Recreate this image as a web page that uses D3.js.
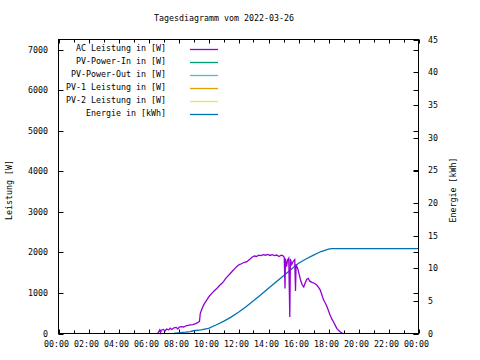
<!DOCTYPE html>
<html><head><meta charset="utf-8">
<script src="https://cdn.jsdelivr.net/npm/d3@7"></script>
<style>
body{margin:0;background:#fff;}
text{font-family:"DejaVu Sans Mono",monospace;font-size:8.3px;fill:#000;}
</style></head>
<body><svg id="c" width="480" height="360"></svg>
<script>
const title = "Tagesdiagramm vom 2022-03-26";
const yLabel = "Leistung [W]";
const y2Label = "Energie [kWh]";
const xTickLabels = ["00:00","02:00","04:00","06:00","08:00","10:00","12:00","14:00","16:00","18:00","20:00","22:00","00:00"];
const yTicks = [0,1000,2000,3000,4000,5000,6000,7000];
const y2Ticks = [0,5,10,15,20,25,30,35,40,45];
const legendNames = ["AC Leistung in [W]","PV-Power-In in [W]","PV-Power-Out in [W]","PV-1 Leistung in [W]","PV-2 Leistung in [W]","Energie in [kWh]"];
const legendColors = ["#9400d3","#009e73","#56b4e9","#e69f00","#f0e442","#0072b2"];

// AC Leistung: time (hours), watts
const acHours = [6.60,6.67,6.75,6.80,6.85,7.00,7.10,7.20,7.35,7.45,7.55,7.70,7.85,7.95,8.05,8.20,8.35,8.50,8.65,8.80,8.95,9.10,9.25,9.40,9.45,9.55,9.67,9.80,9.89,10.05,10.22,10.40,10.56,10.75,10.90,11.00,11.15,11.30,11.45,11.60,11.75,11.89,12.05,12.20,12.35,12.56,12.75,12.90,13.05,13.20,13.35,13.50,13.65,13.80,13.95,14.10,14.25,14.40,14.55,14.70,14.85,14.95,15.05,15.10,15.13,15.20,15.28,15.35,15.42,15.46,15.55,15.65,15.75,15.80,15.84,15.95,16.05,16.15,16.25,16.35,16.45,16.55,16.65,16.75,16.90,17.05,17.20,17.35,17.45,17.55,17.67,17.80,17.90,18.00,18.11,18.22,18.33,18.45,18.56,18.67,18.78,18.90,19.00];
const acWatts = [0,40,90,20,80,100,60,110,90,130,100,140,150,110,160,170,160,190,200,210,220,240,260,300,490,600,700,780,830,920,990,1060,1110,1190,1240,1280,1360,1420,1480,1540,1600,1650,1700,1720,1750,1770,1830,1880,1910,1900,1930,1920,1945,1930,1950,1925,1945,1920,1935,1900,1930,1920,1880,1110,1850,1650,1820,1860,410,1840,1700,1780,1820,1050,1700,1600,1450,1300,1200,1150,1250,1340,1360,1290,1260,1240,1200,1130,1070,960,830,740,660,560,450,360,290,200,120,80,40,10,0];

// Energie: time (hours), kWh
const eHours = [7.67,8.00,8.50,8.78,9.00,9.50,10.00,10.50,11.00,11.50,12.00,12.50,13.00,13.45,14.00,14.50,15.00,15.50,16.00,16.50,17.00,17.50,18.00,18.22,24.00];
const eKwh = [0,0.08,0.2,0.3,0.42,0.55,0.8,1.3,1.85,2.5,3.25,4.1,5.0,5.86,6.92,7.88,8.84,9.8,10.75,11.4,12.0,12.55,12.9,13.0,13.0];

const svg = d3.select("#c");
const L=58.5, R=418.5, T=39.5, B=333.5;
const x = d3.scaleLinear().domain([0,24]).range([L,R]);
const y = d3.scaleLinear().domain([0,7250]).range([B,T]);
const y2 = d3.scaleLinear().domain([0,45]).range([B,T]);

svg.append("text").attr("x",224).attr("y",21).attr("text-anchor","middle").text(title);

// ticks
const g = svg.append("g").attr("stroke","#000").attr("stroke-width",1);
d3.range(0,25,1).forEach(h=>{
  const len = h%2===0?4:3;
  const xx = Math.round(x(h))+0.5;
  g.append("line").attr("x1",xx).attr("x2",xx).attr("y1",B).attr("y2",B-len);
  g.append("line").attr("x1",xx).attr("x2",xx).attr("y1",T).attr("y2",T+len);
});
yTicks.forEach(v=>{
  const yy = Math.round(y(v))+0.5;
  g.append("line").attr("x1",L).attr("x2",L+5).attr("y1",yy).attr("y2",yy);
  g.append("line").attr("x1",R).attr("x2",R-5).attr("y1",yy).attr("y2",yy);
});
y2Ticks.forEach(v=>{
  const yy = Math.round(y2(v))+0.5;
  g.append("line").attr("x1",R).attr("x2",R-5).attr("y1",yy).attr("y2",yy);
});

// tick labels
xTickLabels.forEach((t,i)=>{
  svg.append("text").attr("x",x(i*2)-2).attr("y",347).attr("text-anchor","middle").text(t);
});
yTicks.forEach(v=>{
  svg.append("text").attr("x",48).attr("y",y(v)+3).attr("text-anchor","end").text(v);
});
y2Ticks.forEach(v=>{
  svg.append("text").attr("x",428).attr("y",y2(v)+3).attr("text-anchor","start").text(v);
});

svg.append("text").attr("transform","translate(12,190) rotate(-90)").attr("text-anchor","middle").text(yLabel);
svg.append("text").attr("transform","translate(456,190) rotate(-90)").attr("text-anchor","middle").text(y2Label);

// legend
legendNames.forEach((n,i)=>{
  const yy = 49.5 + i*13;
  svg.append("text").attr("x",166).attr("y",yy+1.5).attr("text-anchor","end").text(n);
  svg.append("line").attr("x1",190).attr("x2",218).attr("y1",yy).attr("y2",yy)
     .attr("stroke",legendColors[i]).attr("stroke-width",1.3);
});

// series
const acData = acHours.map((h,i)=>[h,acWatts[i]]);
const eData = eHours.map((h,i)=>[h,eKwh[i]]);
svg.append("path").datum(eData).attr("fill","none").attr("stroke",legendColors[5]).attr("stroke-width",1.3)
  .attr("d",d3.line().x(d=>x(d[0])).y(d=>y2(d[1])));
svg.append("path").datum(acData).attr("fill","none").attr("stroke",legendColors[0]).attr("stroke-width",1.3)
  .attr("d",d3.line().x(d=>x(d[0])).y(d=>y(d[1])));

// frame
svg.append("rect").attr("x",L).attr("y",T).attr("width",R-L).attr("height",B-T)
  .attr("fill","none").attr("stroke","#000").attr("stroke-width",1);
</script></body></html>
